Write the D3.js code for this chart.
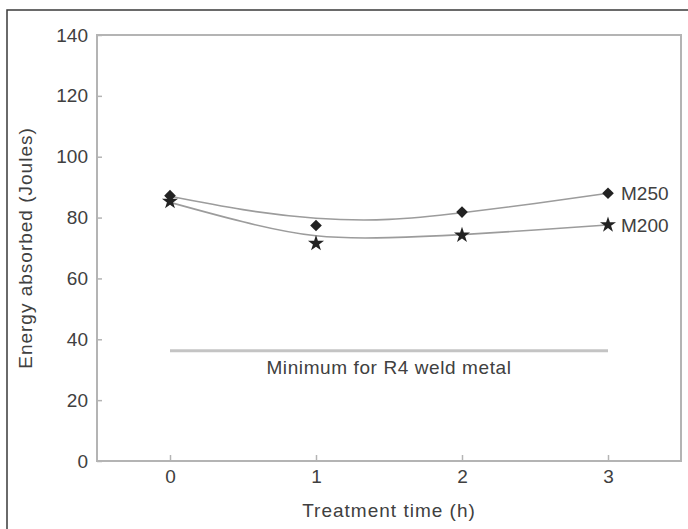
<!doctype html>
<html lang="en">
<head>
<meta charset="utf-8">
<script src="https://d3js.org/d3.v7.min.js"></script>
<style>
body { margin: 0; background: #fff; }
svg { display: block; }
text { font-family: "Liberation Sans", Arial, sans-serif; fill: #404040; }
</style>
</head>
<body>
<script>
// values
var hours = [0, 1, 2, 3];
var m250 = [87.2, 77.4, 81.8, 88.0];
var m200 = [85.3, 71.5, 74.2, 77.6];

// fitted trend lines, read at half hour steps
var fitHours = [0, 0.5, 1, 1.5, 2, 2.5, 3];
var m250Fit = [87.0, 82.6, 79.8, 79.4, 81.6, 84.6, 88.0];
var m200Fit = [85.0, 78.6, 74.0, 73.4, 74.4, 75.9, 77.6];

var minimumR4 = 36.2;
var yTicks = [0, 20, 40, 60, 80, 100, 120, 140];
var xTicks = [0, 1, 2, 3];

var W = 688, H = 529;
var plotL = 97, plotR = 681, plotT = 35, plotB = 461;

var svg = d3.select("body").append("svg")
  .attr("width", W)
  .attr("height", H);

// outer frame of the figure
svg.append("rect")
  .attr("x", 7).attr("y", 10)
  .attr("width", 700).attr("height", 540)
  .attr("fill", "none")
  .attr("stroke", "#3a3a3a")
  .attr("stroke-width", 1.5);

var x = d3.scaleLinear().domain([-0.5, 3.5]).range([plotL, plotR]);
var y = d3.scaleLinear().domain([0, 140]).range([plotB, plotT]);

// plot box
svg.append("rect")
  .attr("x", plotL).attr("y", plotT)
  .attr("width", plotR - plotL).attr("height", plotB - plotT)
  .attr("fill", "none")
  .attr("stroke", "#b4b4b4")
  .attr("stroke-width", 2);

var yAxis = svg.append("g")
  .attr("transform", "translate(" + plotL + ",0)")
  .call(d3.axisRight(y).tickValues(yTicks).tickSize(5).tickFormat(d3.format("d")));
yAxis.select(".domain").remove();
yAxis.selectAll("line").attr("stroke", "#b4b4b4").attr("stroke-width", 1.5);
yAxis.selectAll("text")
  .attr("x", -9)
  .attr("text-anchor", "end")
  .style("font-size", "19px")
  .style("font-family", "'Liberation Sans', Arial, sans-serif")
  .style("fill", "#404040");

var xAxis = svg.append("g")
  .attr("transform", "translate(0," + plotB + ")")
  .call(d3.axisTop(x).tickValues(xTicks).tickSize(6).tickFormat(d3.format("d")));
xAxis.select(".domain").remove();
xAxis.selectAll("line").attr("stroke", "#b4b4b4").attr("stroke-width", 1.5);
xAxis.selectAll("text")
  .attr("y", 22)
  .style("font-size", "19px")
  .style("font-family", "'Liberation Sans', Arial, sans-serif")
  .style("fill", "#404040");

// minimum requirement line
svg.append("line")
  .attr("x1", x(0)).attr("x2", x(3))
  .attr("y1", y(minimumR4)).attr("y2", y(minimumR4))
  .attr("stroke", "#c4c4c4")
  .attr("stroke-width", 3);

svg.append("text")
  .attr("x", (x(0) + x(3)) / 2)
  .attr("y", y(minimumR4) + 23)
  .attr("text-anchor", "middle")
  .style("font-size", "19px")
  .style("letter-spacing", "0.6px")
  .text("Minimum for R4 weld metal");

// trend curves
var curve = d3.line()
  .x(function(d) { return x(d[0]); })
  .y(function(d) { return y(d[1]); })
  .curve(d3.curveNatural);

[m250Fit, m200Fit].forEach(function(vals) {
  svg.append("path")
    .datum(fitHours.map(function(h, i) { return [h, vals[i]]; }))
    .attr("d", curve)
    .attr("fill", "none")
    .attr("stroke", "#9c9c9c")
    .attr("stroke-width", 1.6);
});

// markers: square turned 45 deg for M250, star for M200
svg.selectAll(".diamond")
  .data(hours.map(function(h, i) { return [h, m250[i]]; }))
  .enter().append("path")
  .attr("class", "diamond")
  .attr("transform", function(d) { return "translate(" + x(d[0]) + "," + y(d[1]) + ") rotate(45)"; })
  .attr("d", d3.symbol().type(d3.symbolSquare).size(68))
  .attr("fill", "#222");

svg.selectAll(".star")
  .data(hours.map(function(h, i) { return [h, m200[i]]; }))
  .enter().append("path")
  .attr("class", "star")
  .attr("transform", function(d) { return "translate(" + x(d[0]) + "," + y(d[1]) + ")"; })
  .attr("d", d3.symbol().type(d3.symbolStar).size(80))
  .attr("fill", "#222");

// series labels
svg.append("text")
  .attr("x", x(3) + 13)
  .attr("y", y(m250[3]) + 7)
  .style("font-size", "19px")
  .text("M250");

svg.append("text")
  .attr("x", x(3) + 13)
  .attr("y", y(m200[3]) + 7)
  .style("font-size", "19px")
  .text("M200");

// axis titles
svg.append("text")
  .attr("x", (x(0) + x(3)) / 2)
  .attr("y", 517)
  .attr("text-anchor", "middle")
  .style("font-size", "19px")
  .style("letter-spacing", "1px")
  .text("Treatment time (h)");

svg.append("text")
  .attr("transform", "translate(32,248) rotate(-90)")
  .attr("text-anchor", "middle")
  .style("font-size", "19px")
  .style("letter-spacing", "1px")
  .text("Energy absorbed (Joules)");
</script>
</body>
</html>
